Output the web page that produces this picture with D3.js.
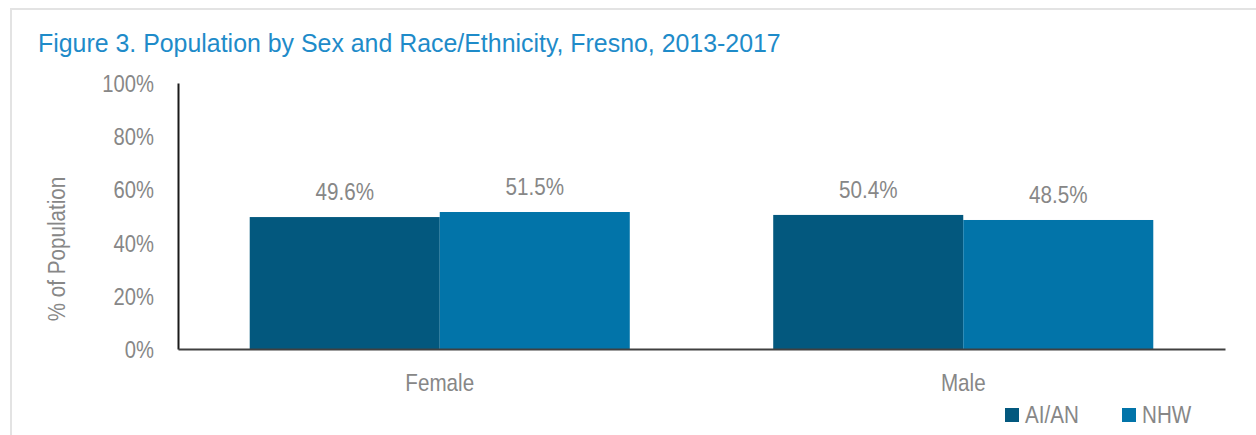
<!DOCTYPE html>
<html>
<head>
<meta charset="utf-8">
<script src="https://cdn.jsdelivr.net/npm/d3@7"></script>
<style>
  body { margin: 0; background: #fff; }
  svg { display: block; font-family: "Liberation Sans", Arial, sans-serif; }
</style>
</head>
<body>
<svg></svg>
<script>
// chart data
const categories = ['Female', 'Male'];
const seriesNames = ['AI/AN', 'NHW'];
const aian = [49.6, 50.4];
const nhw = [51.5, 48.5];
const yTicks = [0, 20, 40, 60, 80, 100];

const colors = {'AI/AN': '#03587e', 'NHW': '#0274a9'};
const gray = '#878787';
const narrowK = 0.86; // squeeze Liberation Sans toward a narrow face

const size = {w: 1256, h: 435};
const margin = {t: 83, r: 31, b: 86, l: 178};
const svg = d3.select('svg')
    .attr('width', size.w)
    .attr('height', size.h);

// light frame
svg.append('path')
    .attr('d', `M11,${size.h} V9 H${size.w}`)
    .attr('fill', 'none')
    .attr('stroke', '#e3e3e3')
    .attr('stroke-width', 2);

//narrow text helper
function narrowText(parent, x, y, txt, fs, color, anchor, rot, k){
    return parent.append('text')
        .attr('transform', `translate(${x},${y})` + (rot ? ` rotate(${rot})` : '') + ` scale(${k || narrowK},1)`)
        .attr('text-anchor', anchor || 'start')
        .attr('fill', color)
        .style('font-size', fs + 'px')
        .text(txt);
}

narrowText(svg, 38, 52, 'Figure 3. Population by Sex and Race/Ethnicity, Fresno, 2013-2017', 26.5, '#1e8bc9', 'start', 0, 0.94);

const x0 = d3.scaleBand()
    .domain(categories)
    .range([margin.l, size.w - margin.r])
    .paddingInner(0.274)
    .paddingOuter(0.137);

const x1 = d3.scaleBand()
    .domain(seriesNames)
    .range([0, x0.bandwidth()]);

const y = d3.scaleLinear()
    .domain([0, 100])
    .range([size.h - margin.b, margin.t]);

const rows = categories.map((c, i) => ({cat: c, vals: [
    {name: 'AI/AN', v: aian[i]},
    {name: 'NHW', v: nhw[i]}
]}));

// y axis
const yAxis = svg.append('g')
    .attr('transform', `translate(${margin.l},0)`)
    .call(d3.axisLeft(y).tickValues(yTicks).tickSize(0).tickFormat(d => d + '%'));
yAxis.select('.domain').attr('stroke', '#1a1a1a').attr('stroke-width', 2);
yAxis.selectAll('text')
    .attr('x', 0)
    .attr('dy', '0.36em')
    .attr('transform', `translate(-24,0) scale(${narrowK},1)`)
    .attr('fill', gray)
    .style('font-size', '23.5px')
    .style('font-family', '"Liberation Sans", Arial, sans-serif');

narrowText(svg, 65, 249, '% of Population', 24, gray, 'middle', -90);

// bars
const groups = svg.selectAll('g.grp')
    .data(rows)
    .enter()
    .append('g')
    .classed('grp', true)
    .attr('transform', d => `translate(${x0(d.cat)},0)`);

groups.selectAll('rect')
    .data(d => d.vals)
    .enter()
    .append('rect')
    .attr('x', d => x1(d.name))
    .attr('y', d => y(d.v))
    .attr('width', x1.bandwidth())
    .attr('height', d => y(0) - y(d.v))
    .attr('fill', d => colors[d.name]);

groups.each(function(g){
    const sel = d3.select(this);
    g.vals.forEach(d => {
        narrowText(sel, x1(d.name) + x1.bandwidth() / 2, y(d.v) - 17, d.v.toFixed(1) + '%', 24, gray, 'middle');
    });
});

// x axis
const xAxis = svg.append('g')
    .attr('transform', `translate(0,${y(0)})`)
    .call(d3.axisBottom(x0).tickSize(0));
xAxis.select('.domain').attr('stroke', '#404040').attr('stroke-width', 2);
xAxis.selectAll('text')
    .attr('y', 0)
    .attr('dy', 0)
    .attr('transform', `translate(0,42) scale(${narrowK},1)`)
    .attr('fill', gray)
    .style('font-size', '24px')
    .style('font-family', '"Liberation Sans", Arial, sans-serif');

// legend
const legend = svg.append('g')
    .attr('transform', 'translate(1005,408)');
seriesNames.forEach((name, i) => {
    const item = legend.append('g').attr('transform', `translate(${i * 117},0)`);
    item.append('rect')
        .attr('width', 14)
        .attr('height', 14)
        .attr('fill', colors[name]);
    narrowText(item, 20, 15, name, 24, gray);
});
</script>
</body>
</html>
